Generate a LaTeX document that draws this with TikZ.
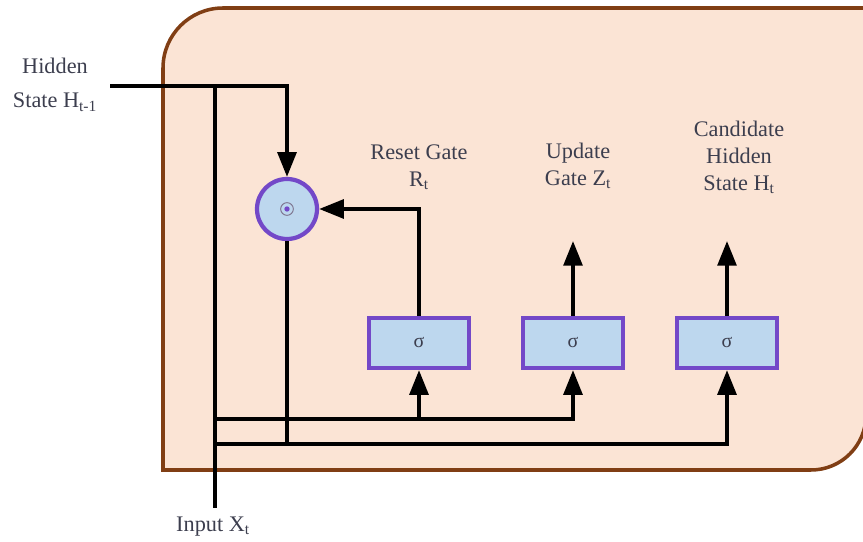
\documentclass[tikz,border=0pt]{standalone}
\usepackage{fontspec}
\setmainfont{Liberation Serif}
\usetikzlibrary{arrows.meta,positioning,calc}

\definecolor{cellfill}{RGB}{251,228,213}
\definecolor{celldraw}{RGB}{128,62,20}
\definecolor{gatefill}{RGB}{189,215,238}
\definecolor{gatedraw}{RGB}{115,72,200}
\definecolor{txt}{RGB}{60,62,78}

\tikzset{
  gate/.style={draw=gatedraw,fill=gatefill,line width=3.6pt,minimum width=3cm,minimum height=1.5cm,text=txt,font=\fontsize{17}{19}\selectfont},
  lbl/.style={align=center,text=txt,font=\fontsize{19}{23}\selectfont},
  wire/.style={line width=3.2pt},
  arr/.style={wire,-{Triangle[length=0.74cm,width=0.56cm]}}
}

\begin{document}
\begin{tikzpicture}[x=0.03cm,y=-0.03cm]
  \useasboundingbox (0,0) rectangle (863,542);
  % GRU cell body: rounded top-left and bottom-right
  \draw[celldraw,fill=cellfill,line width=3pt] (163,470) -- (163,68)
    arc[start angle=180,end angle=90,radius=1.8cm] -- (866,8) -- (866,415)
    arc[start angle=0,end angle=-90,radius=1.65cm] -- cycle;

  % reset multiply and the three sigma gates
  \node[gate,circle,minimum size=1.8cm] (mult) at (287,209) {};
  \draw[gray!80!gatedraw,line width=0.8pt] (mult) circle (0.19cm);
  \fill[gatedraw] (mult) circle (0.08cm);
  \node[gate] (reset) at (419,343) {σ};
  \node[gate] (update) at (573,343) {σ};
  \node[gate] (cand) at (727,343) {σ};

  % labels
  \node[lbl,font=\fontsize{19}{29}\selectfont] (hlbl) at (55,85) {Hidden\\State H\textsubscript{t-1}};
  \node[lbl] (rlbl) at (419,167) {Reset Gate\\R\textsubscript{t}};
  \node[lbl] (zlbl) at (578,166) {Update\\Gate Z\textsubscript{t}};
  \node[lbl] (clbl) at (739,157) {Candidate\\Hidden\\State H\textsubscript{t}};
  \node[lbl] (xlbl) at (213,527) {Input X\textsubscript{t}};

  % free ends
  \coordinate (hin) at (110,86);
  \coordinate (xin) at (215,508);
  \coordinate (zout) at (573,241);
  \coordinate (hout) at (727,241);
  \coordinate (bus1) at (215,419);
  \coordinate (bus2) at (215,444);

  % hidden state and input wires
  \draw[arr] (hin) -| (mult.north);
  \draw[wire] (hin -| xin) -- (xin);
  \draw[arr] (reset.north) |- (mult.east);
  \draw[arr] (update.north) -- (zout);
  \draw[arr] (cand.north) -- (hout);
  \draw[arr] (bus1) -| (update.south);
  \draw[arr] (bus1 -| reset) -- (reset.south);
  \draw[arr] (bus2) -| (cand.south);
  \draw[wire] (mult.south) -- (mult |- bus2);
\end{tikzpicture}
\end{document}
